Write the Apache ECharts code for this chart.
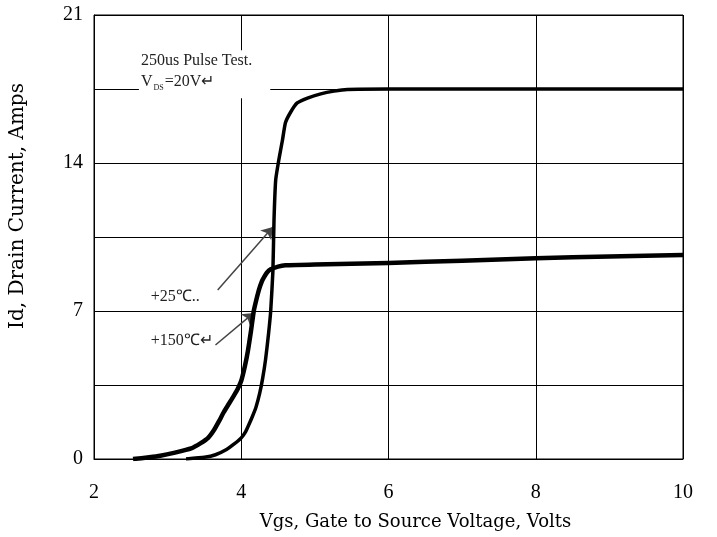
<!DOCTYPE html>
<html>
<head>
<meta charset="utf-8">
<script src="https://cdn.jsdelivr.net/npm/echarts@6/dist/echarts.min.js"></script>
<style>
  html, body { margin: 0; padding: 0; background: #fff; }
  #chart { width: 717px; height: 537px; }
</style>
</head>
<body>
<div id="chart"></div>
<script>
// 150℃ curve
const vgs150 = [2.53, 2.75, 2.9, 3.1, 3.32, 3.45, 3.55, 3.63, 3.7, 3.76, 3.83, 3.9, 3.95, 4.0, 4.05, 4.09, 4.13, 4.17, 4.21, 4.24, 4.28, 4.31, 4.35, 4.4, 4.5, 4.6, 5, 6, 7, 8, 9, 10];
const id150  = [0, 0.08, 0.15, 0.3, 0.5, 0.75, 1.0, 1.37, 1.8, 2.2, 2.6, 3.0, 3.3, 3.7, 4.4, 5.1, 6.0, 7.0, 7.6, 8.0, 8.4, 8.6, 8.82, 8.97, 9.1, 9.16, 9.2, 9.27, 9.38, 9.5, 9.58, 9.65];
// 25℃ curve
const vgs25 = [3.25, 3.5, 3.65, 3.8, 3.9, 4.0, 4.06, 4.1, 4.15, 4.2, 4.25, 4.29, 4.33, 4.37, 4.4, 4.43, 4.445, 4.468, 4.51, 4.56, 4.6, 4.67, 4.76, 4.9, 5.08, 5.26, 5.44, 6, 8, 10];
const id25  = [0, 0.08, 0.2, 0.45, 0.7, 1.0, 1.3, 1.6, 2.0, 2.45, 3.1, 3.8, 4.7, 5.9, 7.0, 8.9, 11.3, 13.2, 14.14, 15.09, 15.9, 16.4, 16.84, 17.07, 17.27, 17.4, 17.48, 17.5, 17.5, 17.5];
// 坐标轴刻度
const xTicks = [2, 4, 6, 8, 10];
const yTicks = [0, 7, 14, 21];

const serif = 'Liberation Serif';
const pairs = (xs, ys) => xs.map((x, i) => [x, ys[i]]);

const chart = echarts.init(document.getElementById('chart'));

const option = {
  backgroundColor: '#fff',
  animation: false,
  grid: {
    left: 93, right: 34, top: 15, bottom: 78,
    show: true, borderColor: '#000', borderWidth: 1
  },
  xAxis: {
    type: 'value',
    min: xTicks[0], max: xTicks[xTicks.length - 1], interval: 2,
    name: 'Vgs, Gate to Source Voltage, Volts',
    nameLocation: 'middle', nameGap: 54,
    nameTextStyle: { fontFamily: 'DejaVu Serif', fontSize: 18, color: '#000', padding: [0, 0, 0, 54] },
    axisLine: { lineStyle: { color: '#000', width: 1 } },
    axisTick: { show: false },
    axisLabel: {
      margin: 24, fontFamily: serif, fontSize: 20, color: '#000',
      formatter: v => xTicks.includes(v) ? String(v) : ''
    },
    splitLine: { show: true, lineStyle: { color: '#000', width: 1 } }
  },
  yAxis: {
    type: 'value',
    min: 0, max: 21, interval: 3.5,
    name: 'Id, Drain Current, Amps',
    nameLocation: 'middle', nameGap: 66,
    nameTextStyle: { fontFamily: 'DejaVu Serif', fontSize: 20, color: '#000', padding: [0, 0, 0, 62] },
    axisLine: { lineStyle: { color: '#000', width: 1 } },
    axisTick: { show: false },
    axisLabel: {
      margin: 11, fontFamily: serif, fontSize: 20, color: '#000',
      formatter: v => yTicks.includes(v) ? String(v) : ''
    },
    splitLine: { show: true, lineStyle: { color: '#000', width: 1 } }
  },
  series: [
    {
      name: '+150℃',
      type: 'line',
      data: pairs(vgs150, id150),
      showSymbol: false,
      smooth: 0.15,
      lineStyle: { color: '#000', width: 4.5, join: 'round' },
      z: 5,
      markPoint: {
        symbol: 'circle', symbolSize: 0,
        label: {
          show: true, position: 'right', distance: 0,
          fontFamily: serif, fontSize: 16, color: '#222'
        },
        data: [
          { coord: [2.77, 5.58], label: { formatter: '+150℃↵' } },
          {
            coord: [2.61, 18.2],
            label: {
              formatter: '250us Pulse Test.\n{v|V}{sub|DS}=20V↵',
              backgroundColor: '#fff',
              padding: [0, 18, 6, 2],
              fontSize: 16, lineHeight: 21,
              rich: {
                v: { fontFamily: serif, fontSize: 16, color: '#222' },
                sub: { fontFamily: serif, fontSize: 8, color: '#222', verticalAlign: 'bottom', padding: [6, 1, 0, 1] }
              }
            }
          }
        ]
      },
      markLine: {
        silent: true,
        symbol: ['none', 'arrow'],
        symbolSize: 11,
        label: { show: false },
        lineStyle: { color: '#444', width: 1.5, type: 'solid' },
        data: [
          [{ coord: [3.65, 5.39] }, { coord: [4.17, 6.91] }],
          [{ coord: [3.68, 7.99] }, { coord: [4.43, 10.97] }]
        ]
      }
    },
    {
      name: '+25℃',
      type: 'line',
      data: pairs(vgs25, id25),
      showSymbol: false,
      smooth: 0.15,
      lineStyle: { color: '#000', width: 3.5, join: 'round' },
      z: 5,
      markPoint: {
        symbol: 'circle', symbolSize: 0,
        label: {
          show: true, position: 'right', distance: 0,
          fontFamily: serif, fontSize: 16, color: '#222'
        },
        data: [
          { coord: [2.77, 7.66], label: { formatter: '+25℃..' } }
        ]
      }
    }
  ]
};

chart.setOption(option);
</script>
</body>
</html>
